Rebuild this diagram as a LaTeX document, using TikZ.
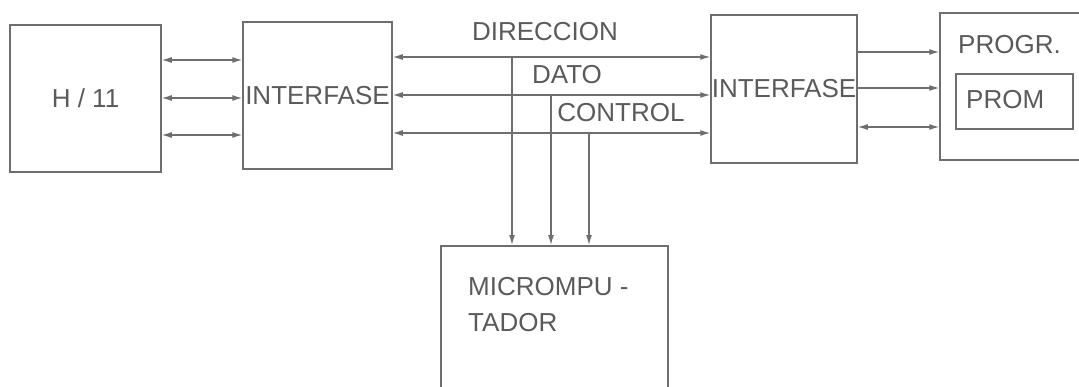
\documentclass[tikz,border=0pt]{standalone}
\usepackage{fontspec}
\setmainfont{Liberation Sans}
\usepackage{tikz}
\usetikzlibrary{arrows.meta,positioning}
\usepackage{xcolor}
\definecolor{inkline}{HTML}{6E6E6E}
\definecolor{inktext}{HTML}{5A5A5A}
\tikzset{
  blockbox/.style={
    draw=inkline,
    line width=1.5pt,
    align=center,
    text=inktext,
    inner sep=0pt,
    font=\fontsize{26}{30}\selectfont
  },
  buslabel/.style={
    text=inktext,
    inner sep=0pt,
    font=\fontsize{26}{30}\selectfont
  },
  arrow/.style={
    -{Latex[length=10pt,width=6pt]},
    line width=1.2pt,
    draw=inkline
  },
  dblarrow/.style={
    {Latex[length=10pt,width=6pt]}-{Latex[length=10pt,width=6pt]},
    line width=1.2pt,
    draw=inkline
  }
}
\begin{document}
\begin{tikzpicture}[x=1pt,y=-1pt]
\useasboundingbox (0,0) rectangle (1079,386);
\node[blockbox, minimum width=151pt, minimum height=147pt] (h11) at (85.5,98.5) {H / 11};
\node[blockbox, minimum width=149pt, minimum height=147pt] (ifl) at (317.5,95.5) {INTERFASE};
\node[blockbox, minimum width=146pt, minimum height=148pt] (ifr) at (784,89) {INTERFASE};
\node[blockbox, minimum width=170pt, minimum height=147pt] (progr) at (1025,86.5) {};
\node[buslabel, anchor=west] (progrlbl) at (958,45) {PROGR.};
\node[blockbox, minimum width=117pt, minimum height=55pt, anchor=north west] (prom) at (955,73) {};
\node[buslabel, anchor=west] (promlbl) at (966,100) {PROM};
\node[blockbox, minimum width=227pt, minimum height=180pt, anchor=north west] (micro) at (440,245) {};
\node[buslabel, anchor=west, align=left] (microlbl) at (468,305) {MICROMPU -\\[6pt]TADOR};
\node[buslabel] (dir) at (545,32) {DIRECCION};
\node[buslabel] (dato) at (567,75) {DATO};
\node[buslabel] (ctrl) at (621,113) {CONTROL};
% bus tap points
\coordinate (b1) at (512,57);
\coordinate (b2) at (551,95);
\coordinate (b3) at (589,133);
\foreach \y in {60,98,135}
  \draw[dblarrow] (h11.east |- 0,\y) -- (ifl.west |- 0,\y);
\foreach \b in {b1,b2,b3} {
  \draw[dblarrow] (ifl.east |- \b) -- (ifr.west |- \b);
  \draw[arrow] (\b) -- (micro.north -| \b);
}
\draw[arrow] (ifr.east |- 0,52) -- (progr.west |- 0,52);
\draw[arrow] (ifr.east |- 0,88) -- (progr.west |- 0,88);
\draw[dblarrow] (ifr.east |- 0,127) -- (progr.west |- 0,127);
\end{tikzpicture}
\end{document}
